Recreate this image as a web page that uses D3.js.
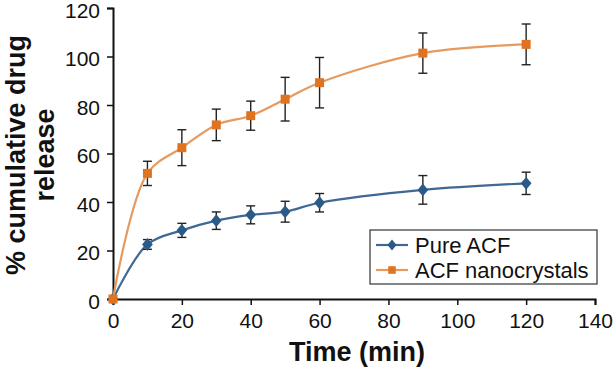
<!DOCTYPE html>
<html>
<head>
<meta charset="utf-8">
<script src="https://cdn.jsdelivr.net/npm/d3@7"></script>
<style>
    body { margin: 0; background: #fff; }
    text { font-family: Arial, "Liberation Sans", sans-serif; fill: #111; }
</style>
</head>
<body>
<svg id="chart" width="614" height="368"></svg>
<script>
// time points (min)
let times = [0, 10, 20, 30, 40, 50, 60, 90, 120];

// % cumulative release and SD
let pureAcf = [0, 22.5, 28.3, 32.3, 34.7, 36.0, 39.7, 45.0, 47.7];
let pureAcfErr = [0, 2.0, 2.9, 3.6, 3.7, 4.3, 3.8, 5.9, 4.6];

let nanoAcf = [0, 51.8, 62.4, 71.8, 75.6, 82.4, 89.2, 101.4, 105.0];
let nanoAcfErr = [0, 5.0, 7.4, 6.5, 6.0, 9.0, 10.4, 8.3, 8.4];

let xTicks = [0, 20, 40, 60, 80, 100, 120, 140];
let yTicks = [0, 20, 40, 60, 80, 100, 120];

let seriesNames = ["Pure ACF", "ACF nanocrystals"];

let margin = {top: 8, right: 19, bottom: 69, left: 113},
    width = 614 - margin.left - margin.right,
    height = 368 - margin.top - margin.bottom;

let svg = d3.select("#chart");
let g = svg.append("g")
    .attr("transform", "translate(" + margin.left + "," + margin.top + ")");

let x = d3.scaleLinear().domain([0, 140]).range([0, width]);
let y = d3.scaleLinear().domain([0, 120]).range([height, 0]);

// axes
let xAxis = g.append("g")
    .attr("transform", "translate(0," + height + ")")
    .call(d3.axisBottom(x).tickValues(xTicks).tickSize(6).tickPadding(4));
let yAxis = g.append("g")
    .call(d3.axisLeft(y).tickValues(yTicks).tickSize(6).tickPadding(7));

[xAxis, yAxis].forEach(function(a) {
    a.select(".domain").attr("stroke", "#111").attr("stroke-width", 2);
    a.selectAll(".tick line").attr("stroke", "#111").attr("stroke-width", 1.5);
    a.selectAll(".tick text")
        .style("font-family", "Arial, 'Liberation Sans', sans-serif")
        .style("font-size", "21px")
        .attr("fill", "#111");
});
yAxis.selectAll(".tick text").attr("dy", "0.44em");
xAxis.selectAll(".tick text").attr("dy", "0.9em");

// axis titles
svg.append("text")
    .attr("x", 357)
    .attr("y", 361)
    .attr("text-anchor", "middle")
    .style("font-size", "27px")
    .style("font-weight", "bold")
    .text("Time (min)");

let yTitle = svg.append("text")
    .attr("transform", "translate(25,155) rotate(-90)")
    .attr("text-anchor", "middle")
    .style("font-size", "27px")
    .style("font-weight", "bold");
yTitle.append("tspan").attr("x", 0).attr("y", 0).text("% cumulative drug");
yTitle.append("tspan").attr("x", 0).attr("y", 29).text("release");

// diamond a bit wider than d3's own
let diamond = {
    draw: function(ctx, size) {
        let w = Math.sqrt(size) * 0.6, h = w * 1.2;
        ctx.moveTo(0, -h);
        ctx.lineTo(w, 0);
        ctx.lineTo(0, h);
        ctx.lineTo(-w, 0);
        ctx.closePath();
    }
};

let series = [
    {name: seriesNames[0], values: pureAcf, err: pureAcfErr,
     line: "#3F6893", fill: "#2C5A87", shape: diamond, size: 80},
    {name: seriesNames[1], values: nanoAcf, err: nanoAcfErr,
     line: "#E59A60", fill: "#E0731F", shape: d3.symbolSquare, size: 81}
];

let line = d3.line()
    .x(function(d) { return x(d.t); })
    .y(function(d) { return y(d.v); })
    .curve(d3.curveCatmullRom.alpha(0.5));

series.forEach(function(s) {
    let pts = times.map(function(t, i) { return {t: t, v: s.values[i], e: s.err[i]}; });

    g.append("path")
        .datum(pts)
        .attr("d", line)
        .attr("fill", "none")
        .attr("stroke", s.line)
        .attr("stroke-width", 2.2);

    // error bars
    let eb = g.append("g").selectAll("g")
        .data(pts.filter(function(d) { return d.e > 0; }))
        .enter().append("g")
        .attr("stroke", "#222")
        .attr("stroke-width", 1.4);
    eb.append("line")
        .attr("x1", function(d) { return x(d.t); })
        .attr("x2", function(d) { return x(d.t); })
        .attr("y1", function(d) { return y(d.v + d.e); })
        .attr("y2", function(d) { return y(d.v - d.e); });
    [1, -1].forEach(function(sign) {
        eb.append("line")
            .attr("x1", function(d) { return x(d.t) - 4.5; })
            .attr("x2", function(d) { return x(d.t) + 4.5; })
            .attr("y1", function(d) { return y(d.v + sign * d.e); })
            .attr("y2", function(d) { return y(d.v + sign * d.e); });
    });

    g.append("g").selectAll("path")
        .data(pts)
        .enter().append("path")
        .attr("d", d3.symbol().type(s.shape).size(s.size))
        .attr("transform", function(d) { return "translate(" + x(d.t) + "," + y(d.v) + ")"; })
        .attr("fill", s.fill);
});

// legend
let legend = svg.append("g").attr("transform", "translate(370,230)");
legend.append("rect")
    .attr("width", 227)
    .attr("height", 54)
    .attr("fill", "#fff")
    .attr("stroke", "#333")
    .attr("stroke-width", 1.2);

series.forEach(function(s, i) {
    let row = legend.append("g").attr("transform", "translate(0," + (15 + i * 25) + ")");
    row.append("line")
        .attr("x1", 6).attr("x2", 38)
        .attr("stroke", s.line)
        .attr("stroke-width", 2.2);
    row.append("path")
        .attr("d", d3.symbol().type(s.shape).size(s.size * 0.7))
        .attr("transform", "translate(22,0)")
        .attr("fill", s.fill);
    row.append("text")
        .attr("x", 45)
        .attr("dy", "0.36em")
        .style("font-size", "22px")
        .text(s.name);
});
</script>
</body>
</html>
